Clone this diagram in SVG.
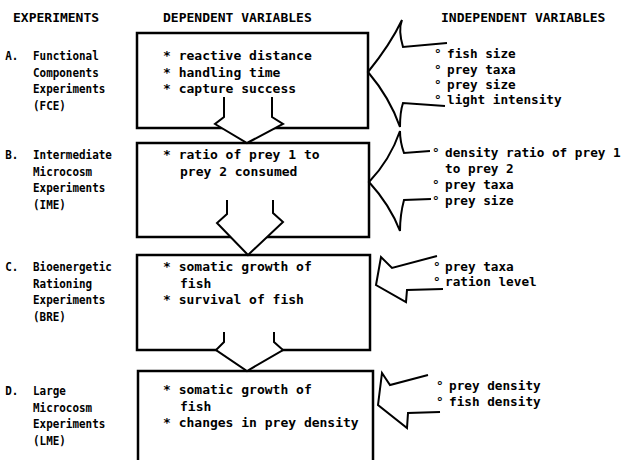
<svg xmlns="http://www.w3.org/2000/svg" width="626" height="460" viewBox="0 0 626 460">
<style>
.t{font-family:"DejaVu Sans Mono","Liberation Mono",monospace;font-weight:bold;font-size:13px;fill:#000}
.i{font-size:12.7px}
.box{fill:none;stroke:#000;stroke-width:2.5}
.arr{fill:#fff;stroke:#000;stroke-width:2;stroke-linejoin:miter}
.side{fill:none;stroke:#000;stroke-width:2;stroke-linejoin:miter}
</style>
<rect width="626" height="460" fill="#fff"/>
<g id="headers">
<text class="t" x="13" y="22">EXPERIMENTS</text>
<text class="t" x="163" y="22">DEPENDENT VARIABLES</text>
<text class="t" x="441" y="22">INDEPENDENT VARIABLES</text>
</g>
<g id="nodeA">
<rect class="box" x="137" y="33" width="231" height="95"/>
<g transform="translate(33,0) scale(0.84,1)">
<text class="t" x="-33" y="60">A. <tspan x="0">Functional</tspan></text>
<text class="t" x="0" y="77">Components</text>
<text class="t" x="0" y="93">Experiments</text>
<text class="t" x="0" y="110">(FCE)</text>
</g>
<text class="t" x="163" y="60">* reactive distance</text>
<text class="t" x="163" y="77">* handling time</text>
<text class="t" x="163" y="93">* capture success</text>
</g>
<g id="nodeB">
<rect class="box" x="137" y="143" width="232" height="94"/>
<g transform="translate(33,0) scale(0.84,1)">
<text class="t" x="-33" y="159">B. <tspan x="0">Intermediate</tspan></text>
<text class="t" x="0" y="176">Microcosm</text>
<text class="t" x="0" y="192">Experiments</text>
<text class="t" x="0" y="209">(IME)</text>
</g>
<text class="t" x="163" y="159">* ratio of prey 1 to</text>
<text class="t" x="180" y="176">prey 2 consumed</text>
</g>
<g id="nodeC">
<rect class="box" x="137" y="255" width="233" height="95"/>
<g transform="translate(33,0) scale(0.84,1)">
<text class="t" x="-33" y="271">C. <tspan x="0">Bioenergetic</tspan></text>
<text class="t" x="0" y="288">Rationing</text>
<text class="t" x="0" y="304">Experiments</text>
<text class="t" x="0" y="321">(BRE)</text>
</g>
<text class="t" x="163" y="271">* somatic growth of</text>
<text class="t" x="180" y="288">fish</text>
<text class="t" x="163" y="304">* survival of fish</text>
</g>
<g id="nodeD">
<path class="box" d="M138,462 V371 H373 V462"/>
<g transform="translate(33,0) scale(0.84,1)">
<text class="t" x="-33" y="395">D. <tspan x="0">Large</tspan></text>
<text class="t" x="0" y="412">Microcosm</text>
<text class="t" x="0" y="428">Experiments</text>
<text class="t" x="0" y="445">(LME)</text>
</g>
<text class="t" x="163" y="394">* somatic growth of</text>
<text class="t" x="180" y="411">fish</text>
<text class="t" x="163" y="427">* changes in prey density</text>
</g>
<g id="connectors">
<path class="arr" d="M224,97 V117 L215,124 L247,143 L283,124 L272,117 V97"/>
<path class="arr" d="M227,200 V214 L217,223 L248,255 L283,222 L273,213 V200"/>
<path class="arr" d="M224,332 V342 L216,350 L247,371 L283,350 L274,342 V332"/>
<path class="side" d="M447,43 L403,47 Q398,30 402,20 Q390,45 368,72 Q390,98 400,127 Q400,112 403,103 L445,106"/>
<path class="side" d="M430,151 L404,153 Q400,142 400,131 Q390,160 369,182 Q390,205 400,231 Q400,215 404,200 L431,199"/>
<path class="side" d="M437,256 L392,268 L381,257 L376,285 L406,302 L407,290 L443,289"/>
<path class="side" d="M428,375 L390,385 L382,373 L378,405 L407,428 L408,413 L440,412"/>
</g>
<g id="indepA">
<text class="t i" x="434" y="58">°<tspan x="447">fish size</tspan></text>
<text class="t i" x="434" y="74">°<tspan x="447">prey taxa</tspan></text>
<text class="t i" x="434" y="89">°<tspan x="447">prey size</tspan></text>
<text class="t i" x="434" y="104">°<tspan x="447">light intensity</tspan></text>
</g>
<g id="indepB">
<text class="t i" x="432" y="157">°<tspan x="445">density ratio of prey 1</tspan></text>
<text class="t i" x="445" y="173">to prey 2</text>
<text class="t i" x="432" y="189">°<tspan x="445">prey taxa</tspan></text>
<text class="t i" x="432" y="205">°<tspan x="445">prey size</tspan></text>
</g>
<g id="indepC">
<text class="t i" x="433" y="271">°<tspan x="445">prey taxa</tspan></text>
<text class="t i" x="433" y="286">°<tspan x="445">ration level</tspan></text>
</g>
<g id="indepD">
<text class="t i" x="436" y="390">°<tspan x="449">prey density</tspan></text>
<text class="t i" x="436" y="406">°<tspan x="449">fish density</tspan></text>
</g>
</svg>
